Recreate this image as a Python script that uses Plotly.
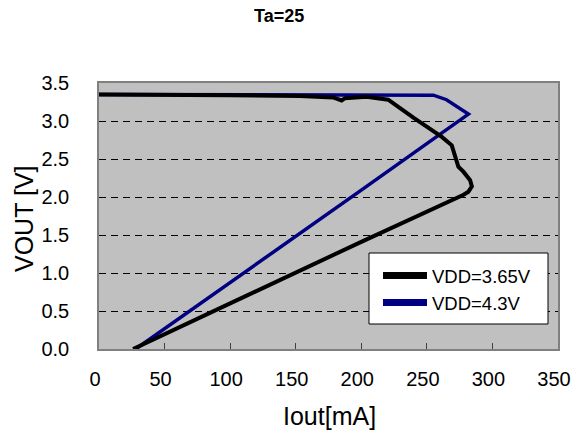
import plotly.graph_objects as go

# VDD = 3.65V
black_x = [0, 50, 100, 153, 178.5, 185, 187.6, 204, 214, 220.5, 240, 261.4, 269, 271.5, 274, 278, 283, 284.3, 281.7, 278, 200, 100, 26]
black_y = [3.35, 3.35, 3.34, 3.33, 3.31, 3.27, 3.30, 3.32, 3.29, 3.28, 3.04, 2.79, 2.68, 2.53, 2.40, 2.33, 2.22, 2.14, 2.07, 2.03, 1.41, 0.60, 0.0]

# VDD = 4.3V
blue_x = [0, 100, 200, 255, 265, 272.8, 281.7, 200, 100, 28]
blue_y = [3.35, 3.35, 3.35, 3.34, 3.28, 3.19, 3.09, 2.09, 0.88, 0.0]

x_ticks = [0, 50, 100, 150, 200, 250, 300, 350]
y_ticks = [0.0, 0.5, 1.0, 1.5, 2.0, 2.5, 3.0, 3.5]

FONT = "Liberation Sans, Arial, sans-serif"

# plot area in pixels
L, R, T, B = 99, 558, 83, 349
PW, PH = R - L, B - T

def px_x(p):
    return (p - L) / PW

def px_y(p):
    return (B - p) / PH

fig = go.Figure()
fig.add_trace(go.Scatter(x=blue_x, y=blue_y, mode="lines", name="VDD=4.3V",
                         line=dict(color="#000080", width=3.5), showlegend=False))
fig.add_trace(go.Scatter(x=black_x, y=black_y, mode="lines", name="VDD=3.65V",
                         line=dict(color="#000000", width=4), showlegend=False))
# legend entries (thicker sample lines, as in the reference)
fig.add_trace(go.Scatter(x=[None], y=[None], mode="lines", name="VDD=3.65V",
                         line=dict(color="#000000", width=7), legendrank=1))
fig.add_trace(go.Scatter(x=[None], y=[None], mode="lines", name="VDD=4.3V",
                         line=dict(color="#000080", width=7), legendrank=2))

fig.update_layout(
    width=574, height=432,
    margin=dict(l=L, r=574 - R, t=T, b=432 - B, autoexpand=False),
    paper_bgcolor="white",
    plot_bgcolor="#C0C0C0",
    font=dict(family=FONT, color="black", size=20),
    showlegend=True,
    legend=dict(x=px_x(378), y=px_y(257), xanchor="left", yanchor="top",
                bgcolor="rgba(0,0,0,0)", borderwidth=0, itemwidth=44,
                tracegroupgap=0,
                font=dict(size=18.5, family=FONT)),
    shapes=[dict(type="rect", xref="paper", yref="paper",
                 x0=px_x(369), x1=px_x(548), y0=px_y(324), y1=px_y(253),
                 fillcolor="white", line=dict(color="black", width=1), layer="above")],
    annotations=[
        dict(text="<b>Ta=25</b>", x=px_x(279), y=px_y(16), xref="paper", yref="paper",
             xanchor="center", yanchor="middle",
             showarrow=False, font=dict(size=18, family=FONT)),
        dict(text="Iout[mA]", x=px_x(329), y=px_y(416), xref="paper", yref="paper",
             xanchor="center", yanchor="middle",
             showarrow=False, font=dict(size=25, family=FONT)),
        dict(text="VOUT [V]", x=px_x(24), y=px_y(219), xref="paper", yref="paper",
             xanchor="center", yanchor="middle", textangle=-90,
             showarrow=False, font=dict(size=25, family=FONT)),
    ],
)

fig.update_xaxes(range=[0, 350], tickvals=x_ticks, ticktext=[str(v) for v in x_ticks],
                 ticks="inside", ticklen=6, tickcolor="#404040",
                 showline=True, linecolor="#808080", linewidth=1.5, mirror=True,
                 showgrid=False, zeroline=False, ticklabelstandoff=11,
                 ticklabelshift=-4, automargin=False,
                 tickfont=dict(size=20))
fig.update_yaxes(range=[0, 3.5], tickvals=y_ticks, ticktext=[f"{v:.1f}" for v in y_ticks],
                 ticks="", showline=True, linecolor="#808080", linewidth=1.5, mirror=True,
                 showgrid=True, gridcolor="black", gridwidth=1, griddash="7px,5px",
                 zeroline=False, ticklabelstandoff=24, automargin=False,
                 tickfont=dict(size=20))

fig.write_html("out.html")
